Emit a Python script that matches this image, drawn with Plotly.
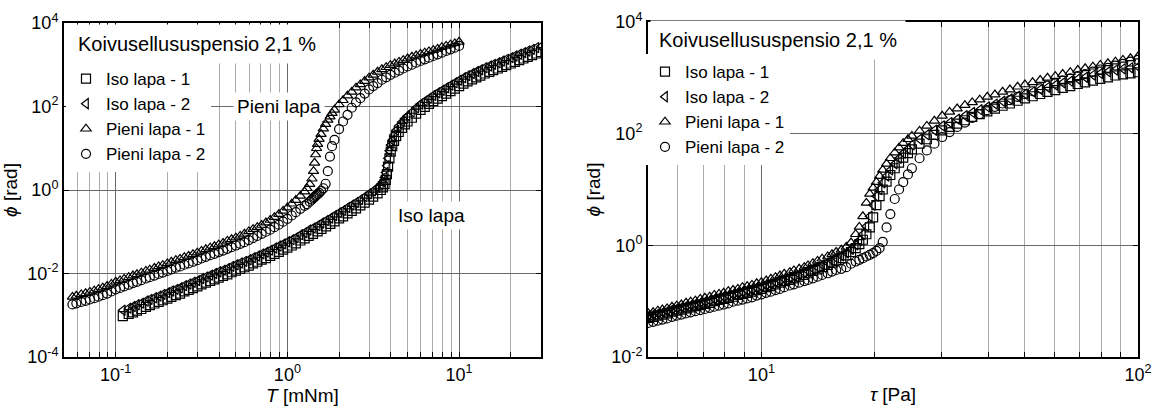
import plotly.graph_objects as go

# ================= Left panel: phi [rad] vs T [mNm] =================
T_pieni = [0.056, 0.059, 0.063, 0.0668, 0.0708, 0.075, 0.0794, 0.0841, 0.0891, 0.0944,
           0.1, 0.106, 0.112, 0.119, 0.126, 0.133, 0.141, 0.15, 0.158, 0.168,
           0.178, 0.188, 0.2, 0.211, 0.224, 0.237, 0.251, 0.266, 0.282, 0.299,
           0.316, 0.335, 0.355, 0.376, 0.398, 0.422, 0.447, 0.473, 0.501, 0.531,
           0.562, 0.596, 0.631, 0.668, 0.708, 0.75, 0.794, 0.841, 0.891, 0.944,
           1.0, 1.06, 1.12, 1.19, 1.26,
           1.3, 1.35, 1.39, 1.42, 1.44, 1.46, 1.48, 1.5, 1.53, 1.57, 1.62, 1.67, 1.72, 1.77, 1.82, 1.88,
           2.0, 2.11, 2.24, 2.37, 2.51, 2.66, 2.82, 2.99, 3.16, 3.35, 3.55, 3.76, 3.98, 4.22, 4.47,
           4.73, 5.01, 5.31, 5.62, 5.96, 6.31, 6.68, 7.08, 7.5, 7.94, 8.41, 8.91, 9.44, 10.0]
phi_pieni_1 = [2.75e-3, 2.92e-3, 3.16e-3, 3.35e-3, 3.63e-3, 3.89e-3, 4.22e-3, 4.57e-3, 5.01e-3, 5.62e-3,
               6.31e-3, 6.84e-3, 7.41e-3, 8.13e-3, 8.91e-3, 9.55e-3, 1.05e-2, 1.15e-2, 1.23e-2, 1.35e-2,
               1.48e-2, 1.58e-2, 1.74e-2, 1.91e-2, 2.09e-2, 2.24e-2, 2.45e-2, 2.63e-2, 2.88e-2, 3.16e-2,
               3.47e-2, 3.80e-2, 4.17e-2, 4.47e-2, 4.90e-2, 5.37e-2, 6.03e-2, 6.61e-2, 7.24e-2, 7.94e-2,
               8.91e-2, 0.102, 0.115, 0.129, 0.145, 0.166, 0.191, 0.224, 0.263, 0.316,
               0.380, 0.468, 0.575, 0.724, 0.912,
               1.10, 1.38, 1.86, 2.82, 4.47, 7.08, 10.0, 12.6, 16.6, 21.9, 29.5, 38.0, 47.9, 57.5, 69.2, 83.2,
               112, 141, 182, 224, 282, 339, 407, 490, 575, 676, 776, 871, 977, 1070, 1170,
               1290, 1410, 1550, 1660, 1820, 1950, 2090, 2240, 2400, 2630, 2820, 3020, 3240, 3550]
phi_pieni_2 = [1.82e-3, 1.93e-3, 2.09e-3, 2.21e-3, 2.40e-3, 2.57e-3, 2.79e-3, 3.02e-3, 3.31e-3, 3.72e-3,
               4.17e-3, 4.52e-3, 4.90e-3, 5.37e-3, 5.89e-3, 6.31e-3, 6.92e-3, 7.59e-3, 8.13e-3, 8.91e-3,
               9.77e-3, 1.05e-2, 1.15e-2, 1.26e-2, 1.38e-2, 1.48e-2, 1.62e-2, 1.74e-2, 1.91e-2, 2.09e-2,
               2.29e-2, 2.51e-2, 2.75e-2, 2.95e-2, 3.24e-2, 3.55e-2, 3.89e-2, 4.27e-2, 4.68e-2, 5.13e-2,
               5.62e-2, 6.31e-2, 7.08e-2, 7.94e-2, 8.91e-2, 0.100, 0.112, 0.129, 0.148, 0.174,
               0.204, 0.245, 0.295, 0.355, 0.417,
               0.457, 0.525, 0.589, 0.646, 0.676, 0.724, 0.759, 0.794, 0.851, 0.955, 1.10, 1.41, 2.82, 6.31, 11.2, 15.8,
               28.8, 43.7, 63.1, 93.3, 126, 158, 204, 257, 309, 363, 437, 501, 575, 646, 724,
               813, 912, 1000, 1120, 1230, 1350, 1480, 1620, 1780, 1950, 2140, 2340, 2570, 2820]

T_iso = [0.11, 0.119, 0.126, 0.133, 0.141, 0.15, 0.158, 0.168, 0.178, 0.188,
         0.2, 0.211, 0.224, 0.237, 0.251, 0.266, 0.282, 0.299, 0.316, 0.335,
         0.355, 0.376, 0.398, 0.422, 0.447, 0.473, 0.501, 0.531, 0.562, 0.596,
         0.631, 0.668, 0.708, 0.75, 0.794, 0.841, 0.891, 0.944, 1.0, 1.06,
         1.12, 1.19, 1.26, 1.33, 1.41, 1.5, 1.58, 1.68, 1.78, 1.88,
         2.0, 2.11, 2.24, 2.37, 2.51, 2.66, 2.82, 2.99, 3.16, 3.35,
         3.5, 3.6, 3.68, 3.74, 3.8, 3.86, 3.93, 4.0, 4.08, 4.18, 4.3, 4.45, 4.65, 4.83,
         5.01, 5.31, 5.62, 5.96, 6.31, 6.68, 7.08, 7.5, 7.94, 8.41, 8.91, 9.44, 10.0, 10.6, 11.2, 11.9,
         12.6, 13.3, 14.1, 15.0, 15.8, 16.8, 17.8, 18.8, 20.0, 21.1, 22.4, 23.7, 25.1, 26.6, 28.2, 30.0]
phi_iso_1 = [9.55e-4, 1.07e-3, 1.17e-3, 1.29e-3, 1.41e-3, 1.58e-3, 1.74e-3, 1.91e-3, 2.09e-3, 2.29e-3,
             2.51e-3, 2.75e-3, 3.02e-3, 3.31e-3, 3.72e-3, 4.07e-3, 4.47e-3, 4.90e-3, 5.50e-3, 6.03e-3,
             6.61e-3, 7.24e-3, 7.94e-3, 8.71e-3, 9.55e-3, 1.07e-2, 1.17e-2, 1.29e-2, 1.41e-2, 1.55e-2,
             1.74e-2, 1.91e-2, 2.14e-2, 2.34e-2, 2.63e-2, 2.95e-2, 3.31e-2, 3.72e-2, 4.17e-2, 4.68e-2,
             5.25e-2, 6.17e-2, 6.92e-2, 7.94e-2, 8.91e-2, 0.102, 0.117, 0.135, 0.155, 0.178,
             0.209, 0.234, 0.275, 0.316, 0.363, 0.427, 0.501, 0.589, 0.692, 0.832,
             1.00, 1.15, 1.38, 1.74, 2.40, 3.63, 5.75, 8.32, 11.2, 15.1, 19.5, 24.5, 30.9, 37.2,
             43.7, 53.7, 67.6, 83.2, 97.7, 115, 135, 155, 178, 204, 234, 269, 309, 355, 398, 447,
             501, 550, 617, 676, 741, 813, 891, 977, 1070, 1170, 1290, 1410, 1550, 1700, 1860, 2000]
phi_iso_2 = [1.32e-3, 1.48e-3, 1.62e-3, 1.78e-3, 1.95e-3, 2.19e-3, 2.40e-3, 2.63e-3, 2.88e-3, 3.16e-3,
             3.47e-3, 3.80e-3, 4.17e-3, 4.57e-3, 5.13e-3, 5.62e-3, 6.17e-3, 6.76e-3, 7.59e-3, 8.32e-3,
             9.12e-3, 1.00e-2, 1.10e-2, 1.20e-2, 1.32e-2, 1.48e-2, 1.62e-2, 1.78e-2, 1.95e-2, 2.14e-2,
             2.40e-2, 2.63e-2, 2.95e-2, 3.24e-2, 3.63e-2, 4.07e-2, 4.57e-2, 5.13e-2, 5.75e-2, 6.46e-2,
             7.24e-2, 8.51e-2, 9.55e-2, 0.110, 0.123, 0.141, 0.162, 0.186, 0.214, 0.245,
             0.288, 0.324, 0.380, 0.437, 0.501, 0.589, 0.692, 0.813, 0.955, 1.15,
             1.38, 1.58, 2.00, 2.63, 3.80, 5.75, 8.71, 12.0, 15.5, 20.9, 26.9, 33.9, 42.7, 51.3,
             60.3, 74.1, 93.3, 115, 135, 158, 186, 214, 245, 282, 324, 372, 427, 490, 550, 617,
             692, 759, 851, 933, 1020, 1120, 1230, 1350, 1480, 1620, 1780, 1950, 2140, 2340, 2570, 2750]

# ================= Right panel: phi [rad] vs tau [Pa] =================
tau = [5.01, 5.16, 5.31, 5.46, 5.62, 5.79, 5.96, 6.13, 6.31, 6.49,
       6.68, 6.88, 7.08, 7.29, 7.5, 7.72, 7.94, 8.17, 8.41, 8.66,
       8.91, 9.17, 9.44, 9.72, 10.0, 10.3, 10.6, 10.9, 11.2, 11.5,
       11.9, 12.2, 12.6, 13.0, 13.3, 13.7, 14.1, 14.5, 15.0, 15.4,
       15.8, 16.3, 16.8,
       17.3, 17.8, 18.2, 18.6, 19.0, 19.4, 19.8, 20.2, 20.6, 21.0, 21.5, 22.0, 22.6, 23.2, 23.8, 24.5,
       25.1, 26.3, 27.5, 28.8, 30.2, 31.6, 33.1, 34.7, 36.3, 38.0, 39.8, 41.7, 43.7, 45.7, 47.9, 50.1,
       52.5, 55.0, 57.5, 60.3, 63.1, 66.1, 69.2, 72.4, 75.9, 79.4, 83.2, 87.1, 91.2, 95.5, 100.0]
phi_tau_iso_1 = [0.0501, 0.0525, 0.0550, 0.0575, 0.0603, 0.0646, 0.0676, 0.0708, 0.0741, 0.0776,
                 0.0813, 0.0851, 0.0891, 0.0933, 0.100, 0.105, 0.110, 0.115, 0.120, 0.129,
                 0.135, 0.141, 0.148, 0.158, 0.166, 0.178, 0.186, 0.200, 0.214, 0.229,
                 0.240, 0.257, 0.275, 0.295, 0.316, 0.347, 0.372, 0.407, 0.447, 0.490,
                 0.537, 0.589, 0.661,
                 0.759, 0.891, 1.05, 1.26, 1.58, 2.09, 3.16, 5.25, 7.59, 10.0, 13.8, 18.2, 24.0, 30.2, 37.2, 44.7,
                 52.5, 66.1, 79.4, 95.5, 115, 132, 151, 174, 200, 224, 251, 282, 316, 347, 389, 427,
                 468, 513, 562, 603, 661, 708, 776, 832, 891, 955, 1020, 1100, 1150, 1200, 1260]
phi_tau_iso_2 = [0.0550, 0.0575, 0.0603, 0.0631, 0.0661, 0.0708, 0.0741, 0.0776, 0.0813, 0.0851,
                 0.0891, 0.0933, 0.0977, 0.102, 0.110, 0.115, 0.120, 0.126, 0.132, 0.141,
                 0.148, 0.155, 0.162, 0.174, 0.182, 0.195, 0.204, 0.219, 0.234, 0.251,
                 0.263, 0.282, 0.302, 0.324, 0.347, 0.380, 0.407, 0.447, 0.490, 0.537,
                 0.589, 0.646, 0.724,
                 0.851, 1.02, 1.23, 1.58, 2.19, 3.31, 5.25, 7.59, 10.0, 13.2, 17.4, 22.4, 28.8, 36.3, 44.7, 53.7,
                 63.1, 79.4, 95.5, 115, 138, 158, 182, 209, 240, 269, 302, 339, 380, 417, 468, 513,
                 562, 617, 676, 741, 813, 871, 955, 1020, 1120, 1200, 1290, 1380, 1450, 1510, 1580]
phi_tau_pieni_1 = [0.0603, 0.0631, 0.0676, 0.0708, 0.0741, 0.0794, 0.0832, 0.0871, 0.0933, 0.0977,
                   0.102, 0.110, 0.115, 0.120, 0.129, 0.135, 0.141, 0.151, 0.158, 0.166,
                   0.178, 0.186, 0.195, 0.209, 0.219, 0.234, 0.251, 0.269, 0.288, 0.309,
                   0.331, 0.355, 0.380, 0.407, 0.437, 0.479, 0.525, 0.575, 0.631, 0.692,
                   0.759, 0.832, 0.933,
                   1.12, 1.58, 2.14, 3.31, 5.75, 8.32, 10.7, 13.5, 17.4, 22.4, 28.8, 36.3, 45.7, 56.2, 67.6, 79.4,
                   91.2, 112, 138, 170, 209, 245, 282, 324, 363, 407, 457, 501, 562, 617, 692, 759,
                   832, 912, 1000, 1070, 1170, 1260, 1380, 1480, 1580, 1700, 1820, 1950, 2090, 2240, 2400]
phi_tau_pieni_2 = [0.0407, 0.0427, 0.0447, 0.0468, 0.0490, 0.0525, 0.0550, 0.0575, 0.0603, 0.0631,
                   0.0661, 0.0692, 0.0724, 0.0759, 0.0794, 0.0832, 0.0871, 0.0912, 0.0977, 0.102,
                   0.107, 0.112, 0.117, 0.126, 0.132, 0.141, 0.148, 0.158, 0.166, 0.178,
                   0.191, 0.200, 0.214, 0.229, 0.240, 0.257, 0.275, 0.295, 0.316, 0.339,
                   0.363, 0.380, 0.407,
                   0.468, 0.513, 0.550, 0.589, 0.631, 0.676, 0.724, 0.794, 0.891, 1.15, 2.09, 3.63, 6.76, 10.0, 13.5, 18.6,
                   24.0, 36.3, 50.1, 66.1, 87.1, 107, 132, 158, 191, 224, 263, 302, 347, 398, 457, 513,
                   575, 646, 724, 794, 891, 977, 1070, 1170, 1290, 1410, 1510, 1660, 1780, 1950, 2090]

for arr in (phi_pieni_1, phi_pieni_2):
    assert len(arr) == len(T_pieni), (len(arr), len(T_pieni))
for arr in (phi_iso_1, phi_iso_2):
    assert len(arr) == len(T_iso), (len(arr), len(T_iso))
for arr in (phi_tau_iso_1, phi_tau_iso_2, phi_tau_pieni_1, phi_tau_pieni_2):
    assert len(arr) == len(tau), (len(arr), len(tau))

series_names = ["Iso lapa - 1", "Iso lapa - 2", "Pieni lapa - 1", "Pieni lapa - 2"]
series_symbols = ["square-open", "triangle-left-open", "triangle-up-open", "circle-open"]
legend_title = "Koivusellususpensio 2,1 %"

# tick definitions
T_major = [0.1, 1, 10]
T_major_text = ["10<sup>-1</sup>", "10<sup>0</sup>", "10<sup>1</sup>"]
T_minor = [0.05, 0.06, 0.07, 0.08, 0.09, 0.2, 0.3, 0.4, 0.5, 0.6, 0.7, 0.8, 0.9,
           2, 3, 4, 5, 6, 7, 8, 9, 20, 30]
tau_major = [10, 100]
tau_major_text = ["10<sup>1</sup>", "10<sup>2</sup>"]
tau_minor = [5, 6, 7, 8, 9, 20, 30, 40, 50, 60, 70, 80, 90]
phi_left_ticks = [1e-4, 1e-2, 1, 1e2, 1e4]
phi_left_text = ["10<sup>-4</sup>", "10<sup>-2</sup>", "10<sup>0</sup>", "10<sup>2</sup>", "10<sup>4</sup>"]
phi_right_ticks = [1e-2, 1, 1e2, 1e4]
phi_right_text = ["10<sup>-2</sup>", "10<sup>0</sup>", "10<sup>2</sup>", "10<sup>4</sup>"]

FONT = "Liberation Sans, Arial, sans-serif"
W, H = 1160, 412

fig = go.Figure()

left_data = [(T_iso, phi_iso_1), (T_iso, phi_iso_2), (T_pieni, phi_pieni_1), (T_pieni, phi_pieni_2)]
right_data = [(tau, phi_tau_iso_1), (tau, phi_tau_iso_2), (tau, phi_tau_pieni_1), (tau, phi_tau_pieni_2)]

for (xs, ys), name, sym in zip(left_data, series_names, series_symbols):
    fig.add_trace(go.Scatter(
        x=xs, y=ys, mode="markers", name=name, xaxis="x", yaxis="y", legend="legend",
        marker=dict(symbol=sym, size=9, color="black", line=dict(width=1.2, color="black")),
    ))
for (xs, ys), name, sym in zip(right_data, series_names, series_symbols):
    fig.add_trace(go.Scatter(
        x=xs, y=ys, mode="markers", name=name, xaxis="x2", yaxis="y2", legend="legend2",
        marker=dict(symbol=sym, size=9, color="black", line=dict(width=1.2, color="black")),
    ))

MAJOR_GRID = "#6a6a6a"
MINOR_GRID = "#ababab"


def xaxis_cfg(domain, rng, major, major_text, minor, title, anchor):
    return dict(
        type="log", domain=domain, range=rng, anchor=anchor,
        tickmode="array", tickvals=major, ticktext=major_text,
        ticks="inside", ticklen=5, tickwidth=1, tickcolor="black",
        showgrid=True, gridcolor=MAJOR_GRID, gridwidth=1,
        minor=dict(tickmode="array", tickvals=minor, ticks="inside", ticklen=5,
                   tickcolor="black", showgrid=True, gridcolor=MINOR_GRID, gridwidth=1),
        showline=True, linecolor="black", linewidth=2, mirror="ticks",
        tickfont=dict(family=FONT, size=18, color="black"),
        title=dict(text=title, font=dict(family=FONT, size=19, color="black"), standoff=4),
        zeroline=False, automargin=False,
    )


def yaxis_cfg(domain, rng, ticks_, text_, title, anchor):
    return dict(
        type="log", domain=domain, range=rng, anchor=anchor,
        tickmode="array", tickvals=ticks_, ticktext=text_,
        ticks="inside", ticklen=5, tickwidth=1, tickcolor="black",
        showgrid=True, gridcolor=MAJOR_GRID, gridwidth=1,
        showline=True, linecolor="black", linewidth=2, mirror="ticks",
        tickfont=dict(family=FONT, size=18, color="black"),
        title=dict(text=title, font=dict(family=FONT, size=19, color="black"), standoff=6),
        zeroline=False, automargin=False,
    )


xl = xaxis_cfg([64 / W, 541 / W], [-1.30103, 1.47712], T_major, T_major_text, T_minor,
               "<i>T</i> [mNm]", "y")
yl = yaxis_cfg([1 - 357 / H, 1 - 23 / H], [-4, 4], phi_left_ticks, phi_left_text,
               "<i>ϕ</i> [rad]", "x")
xr = xaxis_cfg([648 / W, 1138 / W], [0.69897, 2.0], tau_major, tau_major_text, tau_minor,
               "<i>τ</i> [Pa]", "y2")
yr = yaxis_cfg([1 - 357 / H, 1 - 22 / H], [-2, 4], phi_right_ticks, phi_right_text,
               "<i>ϕ</i> [rad]", "x2")

legend_common = dict(
    bgcolor="white", borderwidth=0, font=dict(family=FONT, size=17, color="black"),
    xanchor="left", yanchor="top", itemsizing="trace", tracegroupgap=0,
)

fig.update_layout(
    width=W, height=H, margin=dict(l=0, r=0, t=0, b=0),
    paper_bgcolor="white", plot_bgcolor="white",
    xaxis=xl, yaxis=yl, xaxis2=xr, yaxis2=yr,
    legend=dict(x=66 / W, y=1 - 61 / H, **legend_common),
    legend2=dict(x=645 / W, y=1 - 54 / H, **legend_common),
    annotations=[
        dict(text=legend_title, xref="paper", yref="paper", x=69 / W, y=1 - 44 / H,
             xanchor="left", yanchor="middle", showarrow=False, bgcolor="white", borderpad=8,
             font=dict(family=FONT, size=20, color="black")),
        dict(text=legend_title, xref="paper", yref="paper", x=650 / W, y=1 - 40 / H,
             xanchor="left", yanchor="middle", showarrow=False, bgcolor="white", borderpad=8,
             font=dict(family=FONT, size=20, color="black")),
        dict(text="Pieni lapa", xref="paper", yref="paper", x=279 / W, y=1 - 106 / H,
             xanchor="center", yanchor="middle", showarrow=False, bgcolor="white", borderpad=3,
             font=dict(family=FONT, size=19, color="black")),
        dict(text="Iso lapa", xref="paper", yref="paper", x=431 / W, y=1 - 215 / H,
             xanchor="center", yanchor="middle", showarrow=False, bgcolor="white", borderpad=3,
             font=dict(family=FONT, size=19, color="black")),
    ],
    showlegend=True,
)

fig.write_html("out.html")
